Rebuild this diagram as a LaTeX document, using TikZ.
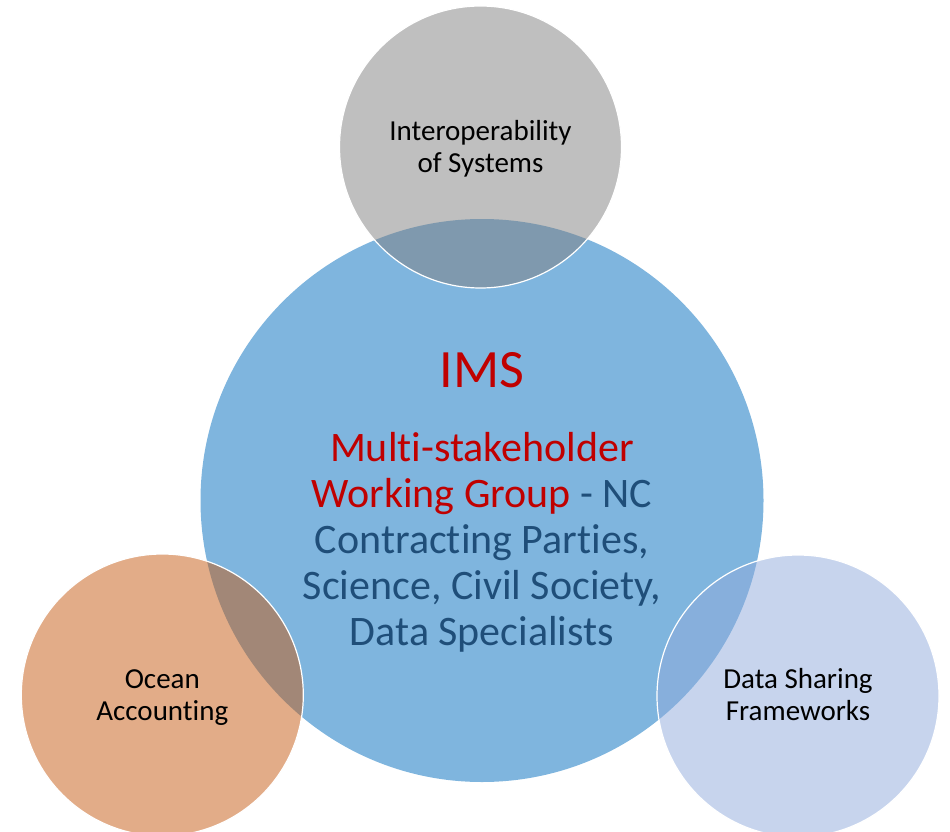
\documentclass[tikz,border=0pt]{standalone}
\usepackage{fontspec}
\setmainfont{Carlito}[Ligatures=NoCommon]
\definecolor{bigblue}{RGB}{127,181,222}
\definecolor{graycirc}{RGB}{127,127,127}
\definecolor{orangecirc}{RGB}{197,90,17}
\definecolor{lightbluecirc}{RGB}{143,170,220}
\definecolor{imsred}{RGB}{192,0,0}
\definecolor{navytext}{RGB}{31,78,121}
\begin{document}
\begin{tikzpicture}[x=1pt,y=-1pt,
  smallcirc/.style={circle,minimum size=282pt,inner sep=0pt,fill opacity=0.5,draw=white,draw opacity=1,line width=1.2pt},
  smalltext/.style={align=center,text=black,font=\fontsize{29}{32}\selectfont,anchor=base},
  bigtext/.style={align=center,font=\fontsize{42}{46}\selectfont,anchor=base}]
\useasboundingbox (0,0) rectangle (950,832);
\node[circle,minimum size=563pt,inner sep=0pt,fill=bigblue] (ims) at (482,500.5) {};
\node[smallcirc,fill=graycirc] (interop) at (480.5,147) {};
\node[smallcirc,fill=orangecirc] (ocean) at (162.3,695) {};
\node[smallcirc,fill=lightbluecirc] (datashare) at (798,696) {};
\node[anchor=base,text=imsred,font=\fontsize{54}{60}\selectfont] (imstitle) at (482,387) {IMS};
\node[bigtext] (imsbody) at (482,645) {\textcolor{imsred}{Multi-stakeholder}\\
  \textcolor{imsred}{Working Group} \textcolor{navytext}{- NC}\\
  \textcolor{navytext}{Contracting Parties,}\\
  \textcolor{navytext}{Science, Civil Society,}\\
  \textcolor{navytext}{Data Specialists}};
\node[smalltext] (interoptext) at (480.5,172) {Interoperability\\of Systems};
\node[smalltext] (oceantext) at (162.3,720) {Ocean\\Accounting};
\node[smalltext] (datasharetext) at (798,720) {Data Sharing\\Frameworks};
\end{tikzpicture}
\end{document}
